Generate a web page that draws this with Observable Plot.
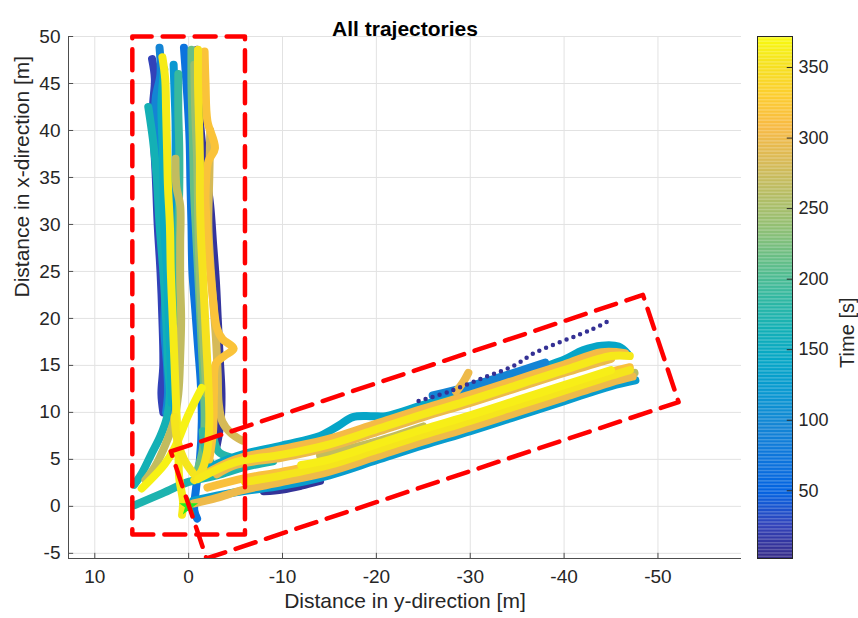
<!DOCTYPE html>
<html><head><meta charset="utf-8">
<script src="https://cdn.jsdelivr.net/npm/d3@7"></script>
<script src="https://cdn.jsdelivr.net/npm/@observablehq/plot@0.6"></script>
<style>
body{margin:0;background:#fff;}
#wrap{position:relative;width:858px;height:618px;background:#fff;}
#wrap svg{position:absolute;left:0;top:0;}
</style></head><body><div id="wrap"></div>
<script>
// ---- axes / ticks ----
const xTicks = [10, 0, -10, -20, -30, -40, -50];
const yTicks = [-5, 0, 5, 10, 15, 20, 25, 30, 35, 40, 45, 50];
const timeTicks = [50, 100, 150, 200, 250, 300, 350];
const xDomain = [12.8, -58.9];
const yDomain = [-5.55, 50];
const timeDomain = [2, 372];

// ---- regions of interest (corners, metres) ----
const regionVertical = [[6, -3], [-6, -3], [-6, 50], [6, 50], [6, -3]];
const regionLateral = [[1.9, 5.85], [-48.4, 22.5], [-52.2, 11.1], [-1.9, -5.55], [1.9, 5.85]];
const startPoint = [[0, 0]];

// ---- trajectories: [y-direction, x-direction] points, and the time of each ----
const vA = [[3.9,47.6],[3.6,45.5],[3.8,42.5],[3.7,39],[3.5,35],[3.3,30],[3.0,25],[2.8,20],[2.7,15],[2.9,12],[2.7,10]];
const vB = [[3.1,48.8],[3.0,46],[3.5,43.5],[3.6,40],[3.3,35],[3.0,30],[2.6,25],[2.5,22.5],[2.6,19],[2.3,15],[2.2,12],[2.4,10]];
const vJ = [[-0.9,48.6],[-1.0,45],[-1.2,41],[-1.5,38],[-1.9,35],[-2.3,32],[-2.6,28],[-2.9,24],[-3.1,20],[-3.3,16],[-3.5,12],[-3.4,9],[-3.0,6.5]];
const vK = [[0.5,48.8],[0.3,46],[0.1,43],[-0.1,39],[-0.2,34],[-0.3,30],[-0.4,25],[-0.7,21],[-1.0,17],[-1.3,13],[-1.4,9],[-1.2,5],[-0.8,2],[-0.6,-0.4],[-0.9,-1.3]];
const vC = [[4.3,42.5],[3.8,39],[3.4,35],[3.1,30],[2.7,25],[2.4,20],[2.2,15],[2.0,12],[2.3,9.5],[3.0,7.5],[4.0,5.5],[5.0,3.5],[5.8,2.3]];
const vC2 = [[5.8,0.1],[3.0,1.3],[0.0,2.6],[-3,3.3],[-6,4.2],[-9,4.8]];
const vR = [[2.6,46.5],[2.9,43],[2.8,39],[2.7,35],[2.6,30],[2.3,25],[2.1,20],[1.9,15],[1.8,11]];
const vD = [[1.6,47],[1.5,44],[1.4,41],[1.4,37],[1.5,33],[1.6,29],[1.5,25],[1.4,20],[1.3,15],[1.4,11],[1.8,8]];
const vL = [[-0.3,48.6],[-0.3,45],[-0.4,41],[-0.5,37],[-0.6,33],[-0.8,29],[-1.0,25],[-1.2,21],[-1.4,17],[-1.6,13],[-1.7,9],[-1.5,6],[-1.0,4]];
const vS = [[-0.6,47],[-0.7,42],[-0.9,37],[-1.0,32],[-1.1,27],[-1.3,22],[-1.6,17],[-1.9,12]];
const vD2 = [[1.1,46],[1.1,42],[1.0,38],[1.0,34],[1.1,30],[1.2,25],[1.1,20]];
const vP = [[-2.2,13],[-2.3,10],[-2.6,7.5],[-3.2,5.8],[-4.5,5.2],[-6,5.0],[-8,5.2]];
const vQ = [[-1.5,8],[-1.8,6],[-2.5,4.5],[-4,4.2],[-6,4.4]];
const vE = [[1.4,37],[1.3,34],[0.9,32],[0.9,28],[0.9,24],[0.8,20],[0.9,16],[1.1,12],[1.6,9],[2.5,6.5],[3.6,4.2],[4.6,2.8]];
const vO = [[-2.3,40],[-2.2,35],[-2.1,30],[-2.3,26],[-2.6,22],[-2.9,18],[-3.1,14],[-3.2,11],[-3.6,9],[-4.5,7.8],[-5.7,7.0]];
const vN = [[-1.7,48.4],[-1.8,45],[-2.0,41],[-2.8,38.1],[-2.1,36.7],[-1.8,33],[-2.0,29],[-2.3,25],[-2.6,22],[-3.0,19],[-3.6,17.8],[-4.8,16.8],[-3.8,16.0],[-2.9,15.2],[-2.7,12],[-2.6,8],[-2.2,5]];
const vG = [[2.8,47.8],[2.5,45.5],[2.4,42],[2.3,38],[2.2,34],[2.0,30],[1.9,25],[1.7,20],[1.5,15],[1.3,10],[1.1,6],[1.0,3],[0.6,0.5],[0.7,-0.9]];
const vM = [[-1.0,48.6],[-1.0,45],[-1.1,41],[-1.2,37],[-1.2,33],[-1.3,29],[-1.5,25],[-1.7,21],[-1.9,17],[-2.1,13],[-2.2,9],[-2.0,6],[-1.4,3.8],[-0.6,2.8]];
const vH = [[-1.4,12.6],[0.0,9.8],[1.5,6.2],[2.55,4.5],[5.0,1.9]];
const vI = [[1.5,9.5],[1.2,7],[0.5,5],[-0.5,3.5]];

const lL1 = [[-0.5,0.6],[-5,1.5],[-10,2.2],[-15,3.3],[-20,4.9],[-25,6.5],[-30,8.0],[-35,9.6],[-40,11.2],[-45,12.8],[-47.6,13.4]];
const lL2 = [[-8,1.6],[-10,1.8],[-12,2.2],[-14,2.7]];
const lU1 = [[-1.5,3.8],[-5,5.3],[-10,6.5],[-14,7.5],[-16,8.6],[-17.5,9.5],[-19.5,9.6],[-21,9.6],[-25,10.8],[-30,12.3],[-35,13.9],[-40,15.6],[-42,16.6],[-44,17.1],[-45.8,17.0],[-46.8,16.2]];
const lUb = [[-26,11.8],[-30,12.8],[-34,14.0],[-38,15.3]];
const lL4 = [[-7,3.0],[-10,3.0],[-15,4.1],[-20,5.7],[-25,7.3],[-30,8.8],[-35,10.4],[-40,12.0],[-45,13.6],[-47.5,14.2]];
const lU3 = [[-3,3.9],[-10,5.8],[-15,6.9],[-20,8.5],[-25,10.1],[-30,11.6],[-35,13.2],[-40,14.8]];
const lL8 = [[-14,5.4],[-20,6.9],[-25,8.5]];
const lL3 = [[-0.5,0.3],[-3,0.9],[-5.6,1.7],[-10,2.6],[-15,3.7],[-20,5.3],[-25,6.9],[-30,8.4],[-35,10.0],[-40,11.6],[-45,13.2],[-47.3,13.8]];
const lL6 = [[-2,2.0],[-6,3.0],[-10,3.7],[-15,4.8],[-20,6.4],[-25,8.0],[-30,9.5],[-35,11.1],[-40,12.7],[-45,14.3],[-47,14.8]];
const lU5 = [[-3,3.4],[-5,4.4],[-10,5.2],[-15,6.3],[-20,7.9],[-25,9.5],[-30,11.0],[-35,12.6],[-40,14.2],[-45,15.7]];
const lU2 = [[-1.5,3.3],[-5,5.0],[-10,6.1],[-15,7.2],[-20,8.8],[-25,10.4],[-30,11.9],[-35,13.5],[-40,15.1],[-44,16.4],[-46.5,16.3]];
const lSpike = [[-28.5,12.2],[-29.3,13.3],[-29.8,14.2]];
const lL5 = [[-6,2.6],[-10,3.3],[-15,4.4],[-20,6.0],[-25,7.6],[-30,9.1],[-35,10.7],[-40,12.3],[-45,13.9],[-47,14.5]];
const lL7 = [[-12,4.4],[-15,5.0],[-20,6.6],[-25,8.2],[-30,9.7],[-35,11.3],[-40,12.9],[-45,14.5]];
const lU4 = [[-1,2.9],[-5,4.7],[-10,5.5],[-15,6.6],[-20,8.2],[-25,9.8],[-30,11.3],[-35,12.9],[-40,14.5],[-45,16.0],[-47,16.0]];
const dotted = [[-24.5,11.2],[-27.7,12.2],[-31.2,13.6],[-34.7,15.0],[-36.8,16.3],[-40.4,17.8],[-42.9,18.8],[-44.7,19.7]];
const dottedTime = 8;

// drawing order (bottom to top) with the time of each trajectory
const tracks = [
  [vA, 25], [vB, 95], [vJ, 12], [vK, 70], [vC, 165], [vC2, 172], [vR, 150], [vD, 120], [vL, 215],
  [vS, 240], [vD2, 190], [vP, 178], [vQ, 188], [lL2, 10], [lL1, 125], [lU1, 140], [lUb, 95],
  [vE, 268], [vO, 282], [lL4, 262], [lU3, 270], [lL8, 268], [vN, 318], [lL3, 300],
  [lL6, 315], [lU5, 298], [lU2, 305], [lSpike, 300], [vG, 360], [vM, 352], [vH, 365],
  [vI, 355], [lL5, 355], [lL7, 362], [lU4, 358]
];

// parula colour map stops
const parulaPos = [0,4,8,12,16,20,24,28,32,36,40,44,48,52,56,60,63].map(i => i / 63);
const parulaCol = ["#352a87","#3243ba","#0363e1","#0d75dc","#1485d4","#0998d1","#06a7c6","#15b1b4",
  "#38b99e","#65be86","#92bf73","#b7bd64","#d9ba56","#f8ba44","#fcce2e","#f5e41d","#f9fb0e"];
const parulaScale = d3.scaleLinear().domain(parulaPos).range(parulaCol).interpolate(d3.interpolateRgb).clamp(true);
const parula = t => parulaScale(t);

const rows = tracks.flatMap(([path, t], id) => path.map(([x, y]) => ({id, t, x, y})));
const fmt = d => String(d);
const font = "'Liberation Sans', Arial, Helvetica, sans-serif";
const axisColor = "#4d4d4d";

const main = Plot.plot({
  width: 858, height: 618,
  marginLeft: 68, marginRight: 117, marginTop: 36, marginBottom: 60,
  style: {background: "transparent", color: "#262626", fontFamily: font, fontSize: "19px", overflow: "visible"},
  x: {domain: xDomain},
  y: {domain: yDomain},
  color: {type: "linear", domain: timeDomain, interpolate: parula},
  marks: [
    Plot.gridX(xTicks, {stroke: "#e2e2e2", strokeOpacity: 1}),
    Plot.gridY(yTicks, {stroke: "#e2e2e2", strokeOpacity: 1}),
    Plot.ruleY([yDomain[0]], {stroke: axisColor}),
    Plot.ruleX([xDomain[0]], {stroke: axisColor}),
    Plot.ruleX(xTicks, {x: d => d, y1: yDomain[0], y2: yDomain[0] + 0.55, stroke: axisColor}),
    Plot.ruleY(yTicks, {y: d => d, x1: xDomain[0], x2: xDomain[0] - 0.55, stroke: axisColor}),
    Plot.axisX(xTicks, {tickSize: 0, tickPadding: 11, tickFormat: fmt, fontSize: 19, label: null}),
    Plot.axisY(yTicks, {tickSize: 0, tickPadding: 8, tickFormat: fmt, fontSize: 19, label: null}),
    Plot.line(rows, {x: "x", y: "y", z: "id", stroke: "t", strokeWidth: 8,
      strokeLinecap: "round", strokeLinejoin: "round", curve: "catmull-rom"}),
    Plot.line(dotted, {x: d => d[0], y: d => d[1], stroke: () => dottedTime, strokeWidth: 4.5,
      strokeDasharray: "0 7.3", strokeLinecap: "round", curve: "catmull-rom"}),
    Plot.dot(startPoint, {x: d => d[0], y: d => d[1], symbol: "star", r: 4.5, fill: "#22ee22", stroke: "#22ee22"}),
    Plot.line(regionVertical, {x: d => d[0], y: d => d[1], stroke: "#ff0000", strokeWidth: 4.5,
      strokeDasharray: "21 11", strokeLinejoin: "round"}),
    Plot.line(regionLateral, {x: d => d[0], y: d => d[1], stroke: "#ff0000", strokeWidth: 4.5,
      strokeDasharray: "21 11", strokeLinejoin: "round", clip: true}),
    Plot.text(["All trajectories"], {frameAnchor: "top", dy: -15, fontWeight: "bold", fontSize: 21, fill: "#000"}),
    Plot.text(["Distance in y-direction [m]"], {frameAnchor: "bottom", dy: 49, fontSize: 21, fill: "#262626"}),
    Plot.text(["Distance in x-direction [m]"], {frameAnchor: "left", dx: -46, rotate: -90, fontSize: 21, fill: "#262626"})
  ]
});

const ramp = d3.range(timeDomain[0], timeDomain[1], 1);
const colorbar = Plot.plot({
  width: 858, height: 618,
  marginLeft: 757, marginRight: 66, marginTop: 36, marginBottom: 60,
  style: {background: "transparent", color: "#262626", fontFamily: font, fontSize: "18px", overflow: "visible"},
  x: {domain: [0, 1], axis: null},
  y: {domain: timeDomain},
  color: {type: "linear", domain: timeDomain, interpolate: parula},
  marks: [
    Plot.rect(ramp, {x1: 0, x2: 1, y1: d => d, y2: d => Math.min(d + 1.05, timeDomain[1]), fill: d => d + 0.5}),
    Plot.ruleY(timeTicks, {y: d => d, x1: 0.85, x2: 1, stroke: "#262626"}),
    Plot.frame({stroke: "#262626"}),
    Plot.axisY(timeTicks, {anchor: "right", tickSize: 0, tickPadding: 6, tickFormat: fmt, fontSize: 18, label: null}),
    Plot.text(["Time [s]"], {frameAnchor: "right", dx: 55, rotate: -90, fontSize: 20, fill: "#262626"})
  ]
});

const wrap = document.getElementById("wrap");
wrap.appendChild(main);
wrap.appendChild(colorbar);
</script></body></html>
